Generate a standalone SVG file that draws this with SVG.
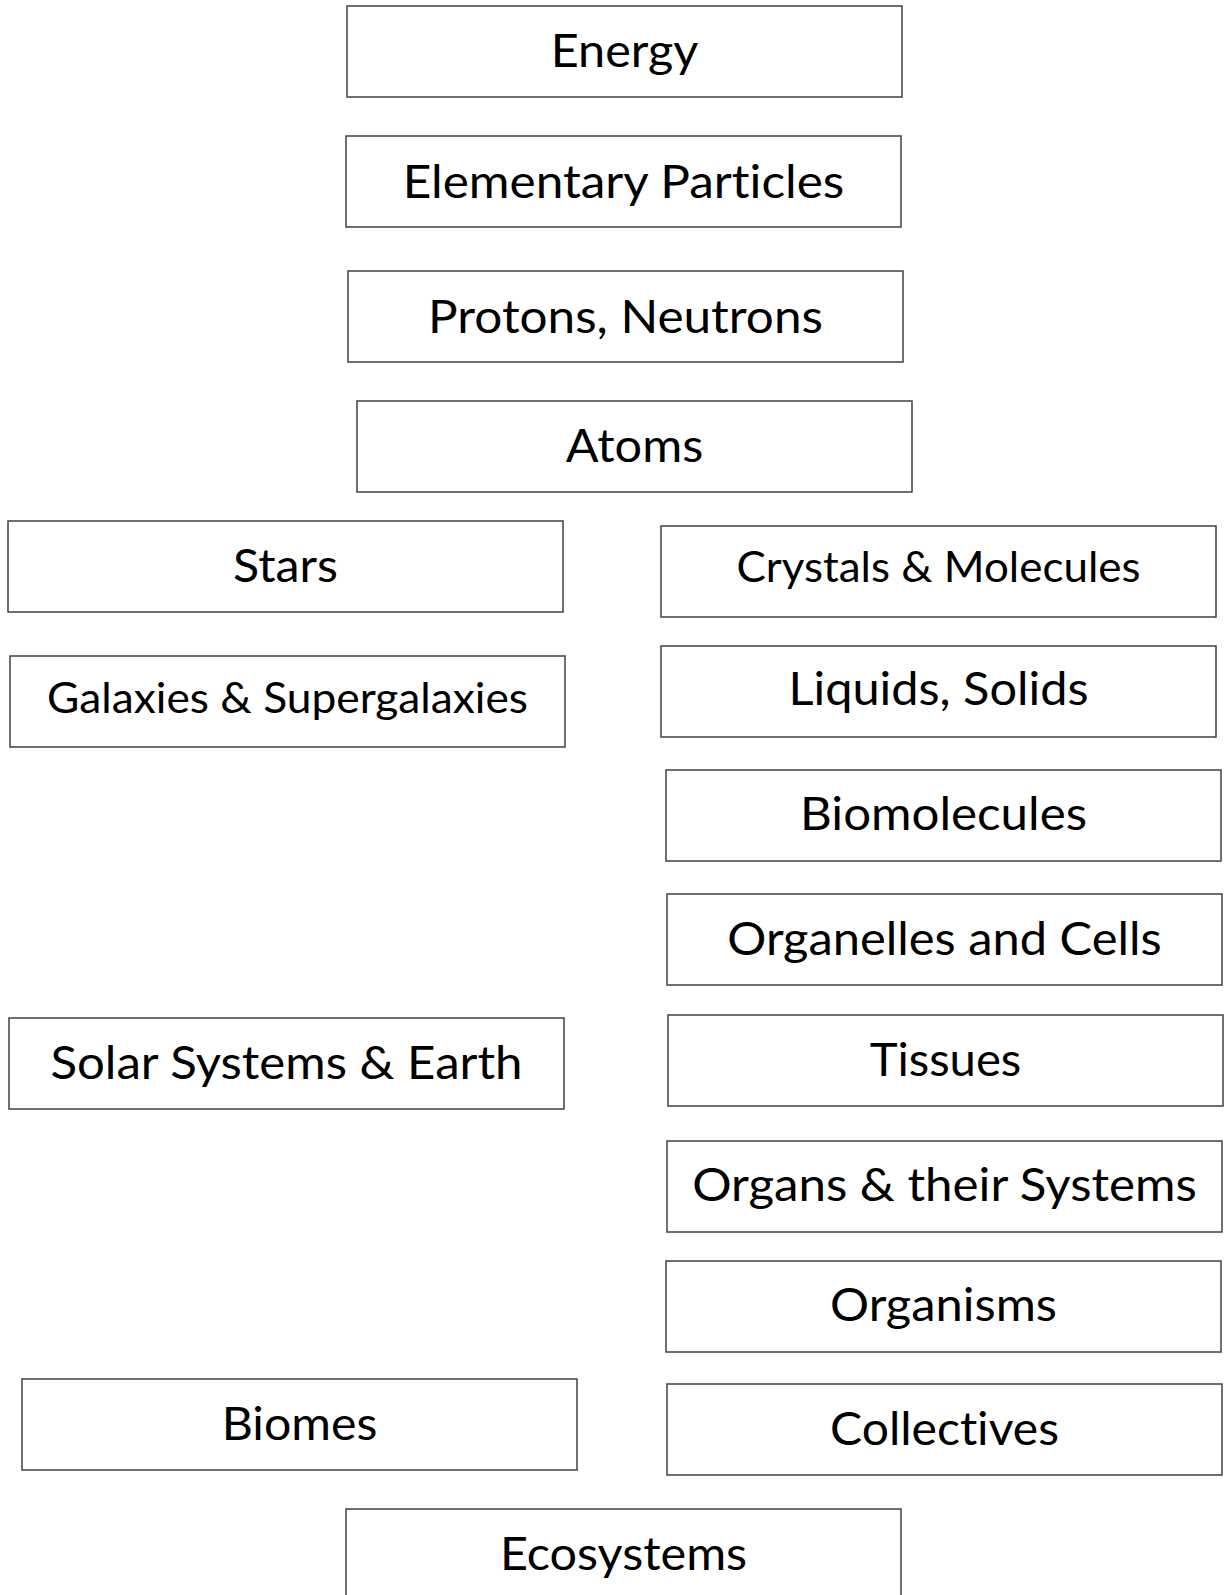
<svg xmlns="http://www.w3.org/2000/svg" width="1225" height="1595" viewBox="0 0 1225 1595">
<style>
rect.box{fill:#ffffff;stroke:#404040;stroke-width:1.5}
text{font-family:Lato,"Liberation Sans",sans-serif;fill:#000;text-anchor:middle;font-variant-ligatures:none;font-feature-settings:"liga" 0,"dlig" 0}
text.big{font-size:46px}
text.small{font-size:42px}
</style>
<rect width="1225" height="1595" fill="#ffffff"/>
<g id="connectors"/>
<g id="energy"><rect class="box" x="347" y="6" width="555" height="91"/><text class="big" x="624.5" y="67" textLength="147.5" lengthAdjust="spacingAndGlyphs">Energy</text></g>
<g id="elementary-particles"><rect class="box" x="346" y="136" width="555" height="91"/><text class="big" x="623.5" y="198" textLength="441.6" lengthAdjust="spacingAndGlyphs">Elementary Particles</text></g>
<g id="protons-neutrons"><rect class="box" x="348" y="271" width="555" height="91"/><text class="big" x="625.5" y="333" textLength="394.8" lengthAdjust="spacingAndGlyphs">Protons, Neutrons</text></g>
<g id="atoms"><rect class="box" x="357" y="401" width="555" height="91"/><text class="big" x="634.5" y="462" textLength="137.4" lengthAdjust="spacingAndGlyphs">Atoms</text></g>
<g id="stars"><rect class="box" x="8" y="521" width="555" height="91"/><text class="big" x="285.5" y="582" textLength="104.8" lengthAdjust="spacingAndGlyphs">Stars</text></g>
<g id="crystals-molecules"><rect class="box" x="661" y="526" width="555" height="91"/><text class="small" x="938.5" y="582" textLength="404" lengthAdjust="spacingAndGlyphs">Crystals &amp; Molecules</text></g>
<g id="galaxies"><rect class="box" x="10" y="656" width="555" height="91"/><text class="small" x="287.5" y="713" textLength="481" lengthAdjust="spacingAndGlyphs">Galaxies &amp; Supergalaxies</text></g>
<g id="liquids-solids"><rect class="box" x="661" y="646" width="555" height="91"/><text class="big" x="938.5" y="705" textLength="300" lengthAdjust="spacingAndGlyphs">Liquids, Solids</text></g>
<g id="biomolecules"><rect class="box" x="666" y="770" width="555" height="91"/><text class="big" x="943.5" y="830" textLength="287" lengthAdjust="spacingAndGlyphs">Biomolecules</text></g>
<g id="organelles-cells"><rect class="box" x="667" y="894" width="555" height="91"/><text class="big" x="944.5" y="955" textLength="434.4" lengthAdjust="spacingAndGlyphs">Organelles and Cells</text></g>
<g id="solar-systems"><rect class="box" x="9" y="1018" width="555" height="91"/><text class="big" x="286.5" y="1079" textLength="472" lengthAdjust="spacingAndGlyphs">Solar Systems &amp; Earth</text></g>
<g id="tissues"><rect class="box" x="668" y="1015" width="555" height="91"/><text class="big" x="945.5" y="1076" textLength="151.6" lengthAdjust="spacingAndGlyphs">Tissues</text></g>
<g id="organs"><rect class="box" x="667" y="1141" width="555" height="91"/><text class="big" x="944.5" y="1201" textLength="504.7" lengthAdjust="spacingAndGlyphs">Organs &amp; their Systems</text></g>
<g id="organisms"><rect class="box" x="666" y="1261" width="555" height="91"/><text class="big" x="943.5" y="1321" textLength="226.9" lengthAdjust="spacingAndGlyphs">Organisms</text></g>
<g id="biomes"><rect class="box" x="22" y="1379" width="555" height="91"/><text class="big" x="299.5" y="1440" textLength="155.7" lengthAdjust="spacingAndGlyphs">Biomes</text></g>
<g id="collectives"><rect class="box" x="667" y="1384" width="555" height="91"/><text class="big" x="944.5" y="1445" textLength="228.9" lengthAdjust="spacingAndGlyphs">Collectives</text></g>
<g id="ecosystems"><rect class="box" x="346" y="1509" width="555" height="91"/><text class="big" x="623.5" y="1570" textLength="247.2" lengthAdjust="spacingAndGlyphs">Ecosystems</text></g>
</svg>
